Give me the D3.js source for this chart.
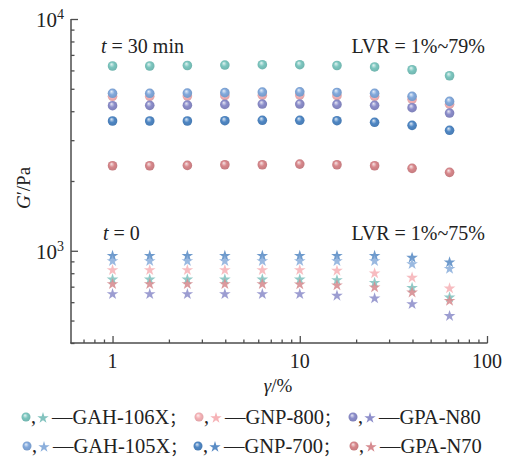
<!DOCTYPE html>
<html><head><meta charset="utf-8">
<script src="https://cdn.jsdelivr.net/npm/d3@7"></script>
<style>
body{margin:0;background:#fff;}
svg{display:block;font-family:"Liberation Serif","Times New Roman",serif;}
</style></head>
<body><svg id="c" width="507" height="457"></svg>
<script>
// ---- data ----
const gamma = [1, 1.58, 2.51, 3.98, 6.31, 10, 15.8, 25.1, 39.8, 63.1];
const seriesNames = ["GAH-106X", "GAH-105X", "GNP-800", "GNP-700", "GPA-N80", "GPA-N70"];
const circleColors = ["#7cc6bf", "#82a9dc", "#f5b2b6", "#4f87c4", "#8b8dca", "#d7878b"];
const starColors   = ["#83c3bf", "#8cafdc", "#f6b3b7", "#5a8cc5", "#8e8fcb", "#d68b90"];
// t = 30 min (circles)
const t30_GAH106X = [6270, 6270, 6300, 6330, 6350, 6350, 6300, 6210, 6040, 5690];
const t30_GAH105X = [4780, 4780, 4790, 4810, 4840, 4850, 4820, 4780, 4640, 4410];
const t30_GNP800  = [4640, 4640, 4650, 4670, 4690, 4700, 4670, 4640, 4500, 4290];
const t30_GNP700  = [3630, 3630, 3630, 3640, 3655, 3655, 3640, 3583, 3477, 3309];
const t30_GPAN80  = [4225, 4240, 4250, 4280, 4296, 4296, 4280, 4240, 4142, 3928];
const t30_GPAN70  = [2327, 2327, 2335, 2350, 2350, 2366, 2350, 2327, 2268, 2180];
// t = 0 (stars)
const t0_GAH106X = [752, 752, 752, 752, 752, 752, 747, 727, 692, 629];
const t0_GAH105X = [903, 903, 903, 903, 903, 903, 903, 903, 876, 836];
const t0_GNP800  = [825, 825, 825, 825, 825, 825, 820, 799, 765, 688];
const t0_GNP700  = [951, 951, 951, 951, 951, 951, 951, 951, 933, 891];
const t0_GPAN80  = [650, 650, 650, 650, 650, 650, 640, 623, 589, 523];
const t0_GPAN70  = [718, 718, 718, 718, 718, 716, 709, 695, 661, 608];
const xTicks = [1, 10, 100];
const xTickLabels = ["1", "10", "100"];
const yTicks = [1000, 10000];
const yTickExp = ["3", "4"];

const t30 = [t30_GAH106X, t30_GAH105X, t30_GNP800, t30_GNP700, t30_GPAN80, t30_GPAN70];
const t0  = [t0_GAH106X, t0_GAH105X, t0_GNP800, t0_GNP700, t0_GPAN80, t0_GPAN70];

// ---- layout ----
const svg = d3.select("#c");
const x = d3.scaleLog().domain([0.6, 100]).range([71, 487]);
const y = d3.scaleLog().domain([400, 10000]).range([343, 19]);
const axisColor = "#4d4d4d";

// gradients
const defs = svg.append("defs");
circleColors.forEach((c, i) => {
  const g = defs.append("radialGradient").attr("id", "g" + i)
    .attr("cx", "0.5").attr("cy", "0.5").attr("r", "0.6")
    .attr("fx", "0.38").attr("fy", "0.3");
  g.append("stop").attr("offset", "0%").attr("stop-color", d3.interpolateRgb(c, "#fff")(0.8));
  g.append("stop").attr("offset", "45%").attr("stop-color", c);
  g.append("stop").attr("offset", "100%").attr("stop-color", d3.color(c).darker(0.35));
});

// axes
const yMinor = [];
for (let d = 400; d <= 10000; ) { yMinor.push(d); d += d < 1000 ? 100 : 1000; }
const xMinor = [];
[0.7,0.8,0.9].forEach(v=>xMinor.push(v));
for (let k = 1; k <= 10; k *= 10) for (let m = 2; m <= 9; m++) xMinor.push(m * k);

const gy = svg.append("g").attr("transform", "translate(71,0)");
gy.call(d3.axisRight(y).tickValues(yMinor.filter(v => !yTicks.includes(v))).tickSize(3.5).tickFormat(""));
gy.append("g").call(d3.axisRight(y).tickValues(yTicks).tickSize(7).tickFormat(""));
const gx = svg.append("g").attr("transform", "translate(0,343)");
gx.call(d3.axisTop(x).tickValues(xMinor).tickSize(3.5).tickFormat(""));
gx.append("g").call(d3.axisTop(x).tickValues(xTicks).tickSize(7).tickFormat(""));
svg.selectAll(".domain").remove();
svg.selectAll(".tick line").attr("stroke", axisColor).attr("stroke-width", 1.3);
svg.append("line").attr("x1", 71).attr("x2", 71).attr("y1", y(10000)).attr("y2", 343.6)
  .attr("stroke", axisColor).attr("stroke-width", 1.5);
svg.append("line").attr("x1", 70.3).attr("x2", x(100) + 0.6).attr("y1", 343).attr("y2", 343)
  .attr("stroke", axisColor).attr("stroke-width", 1.5);

// tick labels
const fs = 20;
xTicks.forEach((v, i) => {
  svg.append("text").attr("x", x(v)).attr("y", 368).attr("text-anchor", "middle")
    .attr("font-size", fs).attr("fill", "#222").text(xTickLabels[i]);
});
yTicks.forEach((v, i) => {
  const t = svg.append("text").attr("x", 64).attr("y", y(v) + 8).attr("text-anchor", "end")
    .attr("font-size", 21).attr("fill", "#222");
  t.append("tspan").text("10");
  t.append("tspan").attr("dy", -8).attr("font-size", 14).text(yTickExp[i]);
});

// axis titles
const yl = svg.append("text").attr("transform", "translate(30,188) rotate(-90)")
  .attr("text-anchor", "middle").attr("font-size", 19).attr("fill", "#222");
yl.append("tspan").attr("font-style", "italic").text("G");
yl.append("tspan").text("′/Pa");
const xl = svg.append("text").attr("x", x(Math.sqrt(0.6*100)) - 1).attr("y", 392)
  .attr("text-anchor", "middle").attr("font-size", 19).attr("fill", "#222");
xl.append("tspan").attr("font-style", "italic").text("γ");
xl.append("tspan").text("/%");

// annotations
function tlabel(xp, yp, rest) {
  const t = svg.append("text").attr("x", xp).attr("y", yp).attr("font-size", fs).attr("fill", "#222");
  t.append("tspan").attr("font-style", "italic").text("t");
  t.append("tspan").text(rest);
}
tlabel(101, 53, " = 30 min");
tlabel(103, 240, " = 0");
svg.append("text").attr("x", 485).attr("y", 53).attr("text-anchor", "end").attr("font-size", fs)
  .attr("fill", "#222").text("LVR = 1%~79%");
svg.append("text").attr("x", 485).attr("y", 240).attr("text-anchor", "end").attr("font-size", fs)
  .attr("fill", "#222").text("LVR = 1%~75%");

// marks
const star = d3.symbol().type(d3.symbolStar).size(42);
const circleOrder = [0, 2, 1, 4, 3, 5];
circleOrder.forEach(i => {
  svg.append("g").selectAll("circle").data(gamma.map((g, j) => [g, t30[i][j]])).join("circle")
    .attr("cx", d => x(d[0])).attr("cy", d => y(d[1])).attr("r", 4.8)
    .attr("fill", "url(#g" + i + ")");
});
const starOrder = [3, 1, 2, 0, 5, 4];
starOrder.forEach(i => {
  svg.append("g").selectAll("path").data(gamma.map((g, j) => [g, t0[i][j]])).join("path")
    .attr("d", star).attr("transform", d => `translate(${x(d[0])},${y(d[1])})`)
    .attr("fill", starColors[i]).attr("fill-opacity", 0.88);
});

// legend
const legendPos = [
  [26, 417, 0], [199, 417, 2], [353, 417, 4],
  [27, 446, 1], [198, 446, 3], [354, 446, 5]
];
const lstar = d3.symbol().type(d3.symbolStar).size(40);
legendPos.forEach(([lx, ly, i], k) => {
  svg.append("circle").attr("cx", lx).attr("cy", ly).attr("r", 4.5).attr("fill", "url(#g" + i + ")");
  svg.append("text").attr("x", lx + 5).attr("y", ly + 6).attr("font-size", fs).attr("fill", "#222").text(",");
  svg.append("path").attr("d", lstar).attr("transform", `translate(${lx + 17},${ly + 1})`)
    .attr("fill", starColors[i]);
  const t = svg.append("text").attr("x", lx + 26).attr("y", ly + 7).attr("font-size", 20.5).attr("fill", "#222");
  t.append("tspan").text("—" + seriesNames[i]);
  if (k % 3 !== 2) {
    t.append("tspan").attr("font-family", "'Noto Sans CJK SC'").attr("font-size", 16).text("；");
  }
});
</script></body></html>
